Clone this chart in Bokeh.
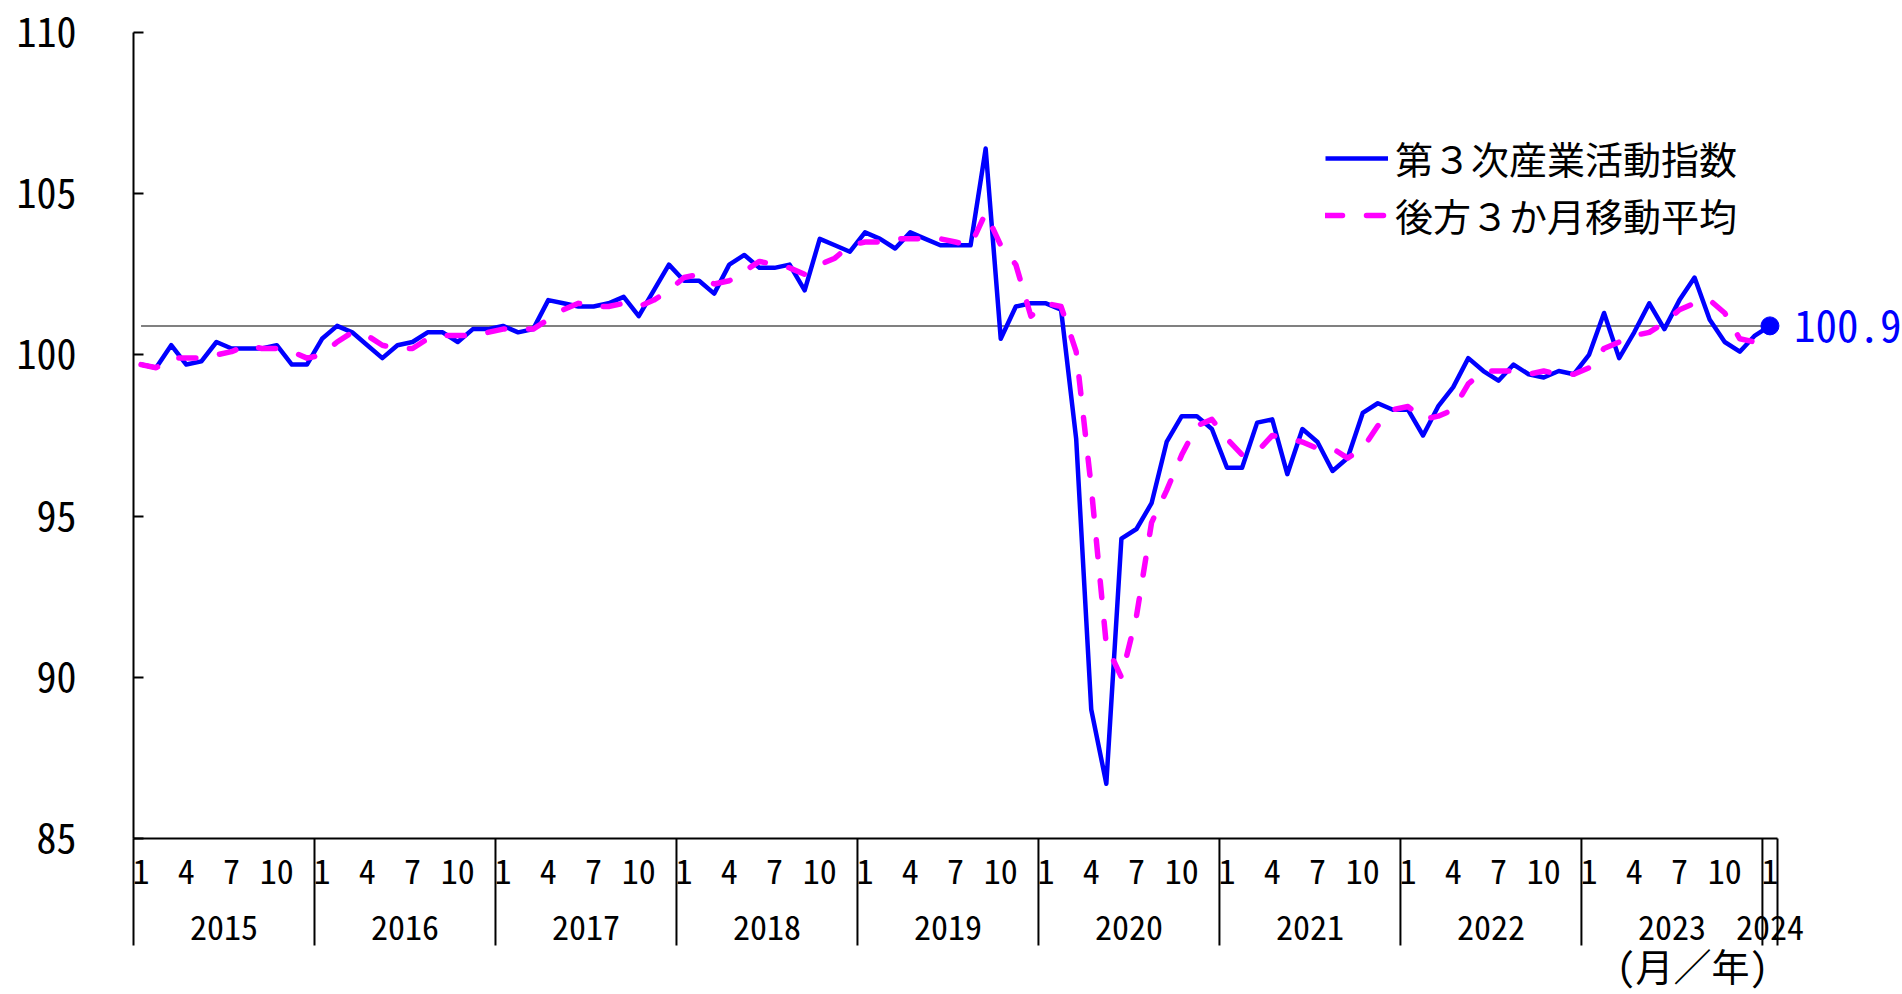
from bokeh.plotting import figure
from bokeh.models import Range1d, FixedTicker, LinearAxis, Legend, LegendItem
from bokeh.core.properties import value
from bokeh.embed import file_html
from bokeh.resources import INLINE

# ---------------- data ----------------
start_year = 2015
years = list(range(2015, 2025))
month_tick_labels = ["1", "4", "7", "10"]

# 第３次産業活動指数 (monthly, Jan 2015 - Jan 2024)
index_values = [
    99.7, 99.6, 100.3, 99.7, 99.8, 100.4, 100.2, 100.2, 100.2, 100.3, 99.7, 99.7,      # 2015
    100.5, 100.9, 100.7, 100.3, 99.9, 100.3, 100.4, 100.7, 100.7, 100.4, 100.8, 100.8,  # 2016
    100.9, 100.7, 100.8, 101.7, 101.6, 101.5, 101.5, 101.6, 101.8, 101.2, 102.0, 102.8,  # 2017
    102.3, 102.3, 101.9, 102.8, 103.1, 102.7, 102.7, 102.8, 102.0, 103.6, 103.4, 103.2,  # 2018
    103.8, 103.6, 103.3, 103.8, 103.6, 103.4, 103.4, 103.4, 106.4, 100.5, 101.5, 101.6,  # 2019
    101.6, 101.4, 97.4, 89.0, 86.7, 94.3, 94.6, 95.4, 97.3, 98.1, 98.1, 97.7,            # 2020
    96.5, 96.5, 97.9, 98.0, 96.3, 97.7, 97.3, 96.4, 96.8, 98.2, 98.5, 98.3,              # 2021
    98.3, 97.5, 98.4, 99.0, 99.9, 99.5, 99.2, 99.7, 99.4, 99.3, 99.5, 99.4,              # 2022
    100.0, 101.3, 99.9, 100.7, 101.6, 100.8, 101.7, 102.4, 101.1, 100.4, 100.1, 100.6,   # 2023
    100.9,                                                                               # 2024
]

# 後方３か月移動平均
moving_avg = [
    99.7, 99.6, 99.9, 99.9, 99.9, 100.0, 100.1, 100.3, 100.2, 100.2, 100.1, 99.9,
    100.0, 100.4, 100.7, 100.6, 100.3, 100.2, 100.2, 100.5, 100.6, 100.6, 100.6, 100.7,
    100.8, 100.8, 100.8, 101.1, 101.4, 101.6, 101.5, 101.5, 101.6, 101.5, 101.7, 102.0,
    102.4, 102.5, 102.2, 102.3, 102.6, 102.9, 102.8, 102.7, 102.5, 102.8, 103.0, 103.4,
    103.5, 103.5, 103.6, 103.6, 103.6, 103.6, 103.5, 103.4, 104.4, 103.4, 102.8, 101.2,
    101.6, 101.5, 100.1, 95.9, 91.0, 90.0, 91.9, 94.8, 95.8, 96.9, 97.8, 98.0,
    97.4, 96.9, 97.0, 97.5, 97.4, 97.3, 97.1, 97.1, 96.8, 97.1, 97.8, 98.3,
    98.4, 98.0, 98.1, 98.3, 99.1, 99.5, 99.5, 99.5, 99.4, 99.5, 99.4, 99.4,
    99.6, 100.2, 100.4, 100.6, 100.7, 101.0, 101.4, 101.6, 101.7, 101.3, 100.5, 100.4,
    100.5,
]

ref_value = 100.9
last_label = "100.9"
y_ticks = [85, 90, 95, 100, 105, 110]
legend_labels = ["第３次産業活動指数", "後方３か月移動平均"]
unit_label = "(月／年)"

# ---------------- derived positions ----------------
n = len(index_values)
xs = [i + 0.5 for i in range(n)]
months = [(i % 12) + 1 for i in range(n)]

month_ticks = [xs[i] for i in range(n) if str(months[i]) in month_tick_labels]
month_overrides = {xs[i]: str(months[i]) for i in range(n) if str(months[i]) in month_tick_labels}

year_centers = []
year_bounds = []
for k, yv in enumerate(years):
    s = 12 * k
    e = min(s + 12, n)
    year_bounds.append(s)
    year_centers.append((s + e) / 2)
year_bounds.append(n)
year_overrides = {c: str(yv) for c, yv in zip(year_centers, years)}

# ---------------- layout ----------------
W, H = 1900, 992
B_LEFT, B_TOP = 133, 32
B_RIGHT = W - 1777
B_BOTTOM = H - 838
frame_h = H - B_TOP - B_BOTTOM
y0, y1 = 85, 110
px_per_unit = frame_h / (y1 - y0)
frame_w = W - B_LEFT - B_RIGHT
px_per_x = frame_w / n

NUM_FONT = "Noto Sans Mono CJK JP, Liberation Sans Narrow, sans-serif"
JP_FONT = "Noto Sans CJK JP"

p = figure(width=W, height=H, x_range=Range1d(0, n), y_range=Range1d(y0, y1),
           output_backend="svg", toolbar_location=None,
           min_border_left=B_LEFT, min_border_right=B_RIGHT,
           min_border_top=B_TOP, min_border_bottom=B_BOTTOM)
p.outline_line_color = None
p.xgrid.visible = False
p.ygrid.visible = False
p.background_fill_color = "white"
p.border_fill_color = "white"

# y axis
ya = p.yaxis[0]
ya.ticker = FixedTicker(ticks=y_ticks)
ya.major_tick_in = 10
ya.major_tick_out = 0
ya.minor_tick_in = 0
ya.minor_tick_out = 0
ya.axis_line_width = 2
ya.major_tick_line_width = 2
ya.axis_line_color = "black"
ya.major_label_text_font = NUM_FONT
ya.major_label_text_font_size = "40px"
ya.major_label_text_color = "black"
ya.major_label_standoff = 57

# x axis: months
xa = p.xaxis[0]
xa.ticker = FixedTicker(ticks=month_ticks)
xa.major_label_overrides = month_overrides
xa.major_tick_in = 0
xa.major_tick_out = 0
xa.minor_tick_in = 0
xa.minor_tick_out = 0
xa.axis_line_width = 2
xa.axis_line_color = "black"
xa.major_label_text_font = NUM_FONT
xa.major_label_text_font_size = "34px"
xa.major_label_text_color = "black"
xa.major_label_standoff = 20

# x axis: years
yax = LinearAxis(ticker=FixedTicker(ticks=year_centers), major_label_overrides=year_overrides)
yax.axis_line_color = None
yax.major_tick_line_color = None
yax.minor_tick_line_color = None
yax.major_label_text_font = NUM_FONT
yax.major_label_text_font_size = "34px"
yax.major_label_text_color = "black"
yax.major_label_standoff = 22
p.add_layout(yax, "below")

# year separators extending below the axis
sep_depth = 107 / px_per_unit
p.segment(x0=year_bounds, y0=[y0] * len(year_bounds), x1=year_bounds,
          y1=[y0 - sep_depth] * len(year_bounds),
          line_color="black", line_width=2, level="overlay")

# reference line at latest value
p.line(x=[xs[0], xs[-1]], y=[ref_value, ref_value], line_color="#808080", line_width=2)

r_blue = p.line(x=xs, y=index_values, line_color="#0000FF", line_width=4.5,
                line_join="round")
r_mag = p.line(x=xs, y=moving_avg, line_color="#FF00FF", line_width=5.5,
               line_dash="17 24", line_cap="round", line_join="round")

p.scatter(x=[xs[-1]], y=[index_values[-1]], size=18, color="#0000FF", level="overlay")

# latest value label
p.text(x=[xs[-1]], y=[index_values[-1]], text=[last_label], x_offset=24,
       text_baseline="middle", text_align="left", text_color="#0000FF",
       text_font=value(NUM_FONT), text_font_size="43px", level="overlay")

# unit label
p.text(x=[(1692 - B_LEFT) / px_per_x], y=[y0 - (964 - 838) / px_per_unit], text=[unit_label],
       text_align="center", text_baseline="middle", text_color="black",
       text_font=value(NUM_FONT), text_font_size="38px", level="overlay")

legend = Legend(items=[LegendItem(label=legend_labels[0], renderers=[r_blue]),
                       LegendItem(label=legend_labels[1], renderers=[r_mag])],
                location=(1192, 596))
legend.border_line_color = None
legend.background_fill_alpha = 0
legend.padding = 0
legend.margin = 0
legend.spacing = 2
legend.glyph_width = 63
legend.glyph_height = 40
legend.label_height = 40
legend.label_standoff = 7
legend.label_text_font = JP_FONT
legend.label_text_font_size = "38px"
legend.label_text_color = "black"
p.add_layout(legend)

open("out.html", "w").write(file_html(p, INLINE))
